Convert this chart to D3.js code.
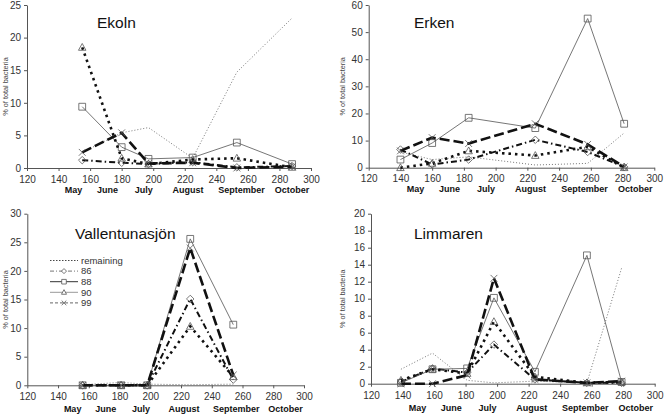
<!DOCTYPE html>
<html><head><meta charset="utf-8">
<script src="https://cdn.jsdelivr.net/npm/d3@7"></script>
<style>body{margin:0;background:#fff} svg{display:block;font-family:"Liberation Sans",Arial,sans-serif}</style>
</head><body><svg id="c" width="664" height="414"></svg>
<script>
// ---- shared axis content ----
const xTicks = [120,140,160,180,200,220,240,260,280,300];
const months = ["May","June","July","August","September","October"];
const monthDays = [149.5,171,194,222,256,288];
const seriesNames = ["remaining","86","88","90","99"];

// ---- Ekoln ----
const ekolnDays      = [155,180,197,225,253,288];
const ekolnRemaining = [2.4,5.4,6.2,1.5,14.7,23.0];
const ekoln86        = [1.2,0.8,0.6,0.9,0.1,0.3];
const ekoln88        = [9.4,3.2,1.4,1.6,3.9,0.6];
const ekoln90        = [18.5,1.5,0.6,1.3,1.5,0.1];
const ekoln99        = [2.4,5.4,0.7,0.8,0.0,0.2];

// ---- Erken ----
const erkenDays      = [140,160,183,225,258,281];
const erkenRemaining = [5.8,3.0,4.0,1.0,1.6,12.8];
const erken86        = [6.7,1.2,3.0,10.3,5.8,0.3];
const erken88        = [3.0,9.1,18.4,14.6,55.0,16.2];
const erken90        = [0.0,1.6,6.2,4.5,7.7,0.0];
const erken99        = [6.2,11.1,8.9,16.2,8.6,0.3];

// ---- Vallentunasjön ----
const vallDays      = [156,181,198,226,254];
const vallRemaining = [0.1,0.5,0.2,0.1,0.2];
const vall86        = [0,0,0,15.1,1.0];
const vall88        = [0,0,0,25.6,10.6];
const vall90        = [0,0,0,10.3,1.5];
const vall99        = [0,0,0,24.0,1.8];

// ---- Limmaren ----
const limDays      = [139,159,181,198,224,257,279];
const limRemaining = [1.7,3.6,0.4,0.1,0.3,0.1,13.6];
const lim86        = [0.2,1.8,1.3,4.6,0.5,0.1,0.1];
const lim88        = [0.1,1.7,1.8,10.1,1.4,15.1,0.2];
const lim90        = [0.4,1.7,1.2,7.3,0.8,0.1,0.2];
const lim99        = [0.0,0.0,1.0,12.4,0.5,0.1,0.3];

const panels = [
  {title:"Ekoln", days:ekolnDays, values:[ekolnRemaining,ekoln86,ekoln88,ekoln90,ekoln99], yMax:25, yStep:5,
   x0:27, x1:311, yTop:5, yBottom:168, titleX:97, titleY:28, labelX:8, tickPad:4.5, monthOff:24.5},
  {title:"Erken", days:erkenDays, values:[erkenRemaining,erken86,erken88,erken90,erken99], yMax:60, yStep:10,
   x0:368.7, x1:654.3, yTop:5, yBottom:167.7, titleX:414, titleY:28, labelX:345, tickPad:4.5, monthOff:24.5},
  {title:"Vallentunasjön", days:vallDays, values:[vallRemaining,vall86,vall88,vall90,vall99], yMax:30, yStep:5,
   x0:27.3, x1:304, yTop:213.7, yBottom:385.3, titleX:75, titleY:238.5, labelX:8, tickPad:5, monthOff:26.5, legend:true},
  {title:"Limmaren", days:limDays, values:[limRemaining,lim86,lim88,lim90,lim99], yMax:20, yStep:2,
   x0:371, x1:654.7, yTop:213.7, yBottom:383.7, titleX:414, titleY:238.5, labelX:345, tickPad:5, monthOff:27.5}
];

const styles = {
  "remaining": {stroke:"#777", width:1,   dash:"1,2",        marker:null},
  "86":        {stroke:"#111", width:2,   dash:"6,3,1.5,3",  marker:"diamond"},
  "88":        {stroke:"#666", width:0.9, dash:null,         marker:"square"},
  "90":        {stroke:"#111", width:2.6, dash:"2.5,4",      marker:"triangle"},
  "99":        {stroke:"#111", width:2.6, dash:"10,4",       marker:"x"}
};
const legendStyles = {
  "remaining": {stroke:"#333", width:0.9, dash:"1.5,1.5", marker:null},
  "86":        {stroke:"#666", width:0.9, dash:"4,2,1,2", marker:"diamond"},
  "88":        {stroke:"#333", width:1,   dash:null,      marker:"square"},
  "90":        {stroke:"#999", width:1,   dash:null,      marker:"triangle"},
  "99":        {stroke:"#666", width:1,   dash:"3,2",     marker:"x"}
};
function markerPath(type, s){
  if(type==="square") return `M${-s},${-s}H${s}V${s}H${-s}Z`;
  if(type==="diamond") return `M0,${-s*1.1}L${s*1.1},0L0,${s*1.1}L${-s*1.1},0Z`;
  if(type==="triangle") return `M0,${-s*1.15}L${s*1.1},${s*0.85}L${-s*1.1},${s*0.85}Z`;
  if(type==="x") return `M${-s},${-s}L${s},${s}M${-s},${s}L${s},${-s}`;
  return "";
}

const svg = d3.select("#c");

panels.forEach(p => {
  const x = d3.scaleLinear().domain([120,300]).range([p.x0,p.x1]);
  const y = d3.scaleLinear().domain([0,p.yMax]).range([p.yBottom,p.yTop]);
  const g = svg.append("g");

  const xa = g.append("g").attr("transform",`translate(0,${p.yBottom})`)
    .call(d3.axisBottom(x).tickValues(xTicks).tickSize(3).tickSizeOuter(0).tickPadding(p.tickPad).tickFormat(d3.format("d")));
  const ya = g.append("g").attr("transform",`translate(${p.x0},0)`)
    .call(d3.axisLeft(y).tickValues(d3.range(0,p.yMax+0.001,p.yStep)).tickSize(3).tickSizeOuter(0).tickPadding(3).tickFormat(d3.format("d")));
  [xa,ya].forEach(a=>{
    a.select(".domain").attr("stroke","#555").attr("stroke-width",1);
    a.selectAll(".tick line").attr("stroke","#555");
    a.selectAll(".tick text").attr("fill","#333").attr("font-size",10).attr("font-family","Liberation Sans, Arial, sans-serif");
  });

  g.selectAll("text.month").data(months).enter().append("text")
    .attr("x",(d,i)=>x(monthDays[i])).attr("y",p.yBottom+p.monthOff)
    .attr("text-anchor","middle").attr("font-size",9).attr("font-weight","bold").attr("fill","#111")
    .text(d=>d);

  g.append("text").attr("transform",`translate(${p.labelX},${(p.yTop+p.yBottom)/2}) rotate(-90)`)
    .attr("text-anchor","middle").attr("font-size",7.3).attr("fill","#444").text("% of total bacteria");

  g.append("text").attr("x",p.titleX).attr("y",p.titleY).attr("font-size",15.5).attr("fill","#111").text(p.title);

  const line = d3.line().x(d=>x(d[0])).y(d=>y(d[1]));
  seriesNames.forEach((name,si)=>{
    const st = styles[name];
    const pts = p.days.map((d,i)=>[d,p.values[si][i]]);
    g.append("path").datum(pts).attr("d",line).attr("fill","none")
      .attr("stroke",st.stroke).attr("stroke-width",st.width)
      .attr("stroke-dasharray",st.dash);
    if(st.marker){
      g.selectAll(null).data(pts).enter().append("path")
        .attr("transform",d=>`translate(${x(d[0])},${y(d[1])})`)
        .attr("d",markerPath(st.marker,3.4)).attr("fill","none").attr("stroke","#555").attr("stroke-width",0.8);
    }
  });

  if(p.legend){
    const lg = g.append("g");
    seriesNames.forEach((name,i)=>{
      const st = legendStyles[name];
      const yy = 260.5 + i*10.6;
      lg.append("line").attr("x1",50).attr("x2",78).attr("y1",yy).attr("y2",yy)
        .attr("stroke",st.stroke).attr("stroke-width",st.width).attr("stroke-dasharray",st.dash);
      if(st.marker){
        lg.append("path").attr("transform",`translate(64,${yy})`).attr("d",markerPath(st.marker,2.3))
          .attr("fill","#fff").attr("stroke","#555").attr("stroke-width",0.8);
      }
      lg.append("text").attr("x",81).attr("y",yy+3.3).attr("font-size",9.5).attr("fill","#333").text(name);
    });
  }
});
</script></body></html>
